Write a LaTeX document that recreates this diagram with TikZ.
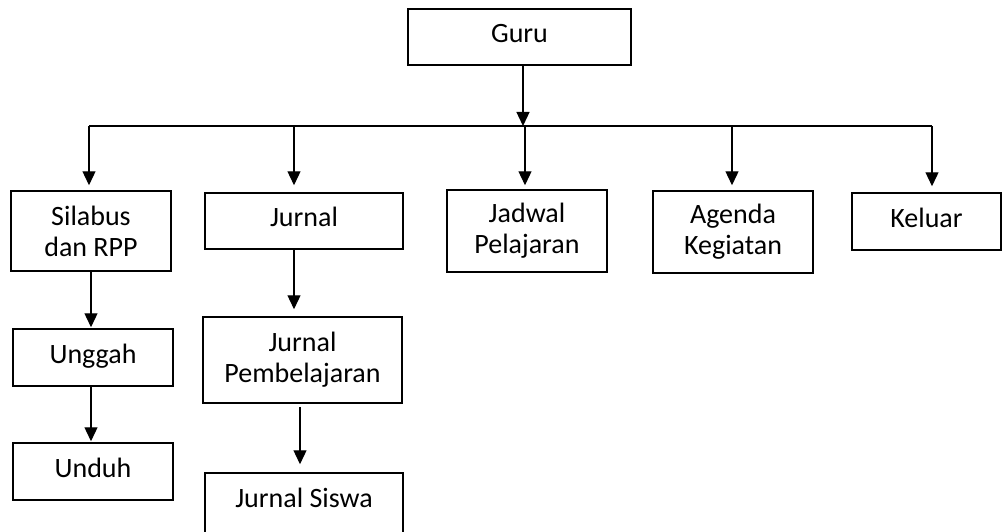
\documentclass[tikz,border=0pt]{standalone}
\usepackage{fontspec}
\setmainfont{Carlito}
\usetikzlibrary{arrows.meta}
\begin{document}
\begin{tikzpicture}[x=1pt,y=-1pt,
  box/.style={draw, line width=1.5pt, inner sep=0pt, align=center,
    font=\fontsize{28}{31}\selectfont, text=black},
  one/.style={text height=18pt, text depth=7pt},
  arr/.style={line width=1.3pt, -{Triangle[length=14pt,width=13pt]}},
  ln/.style={line width=1.3pt}]
\useasboundingbox (0,0) rectangle (1003,532);
% boxes
\node[box, one, minimum width=223pt, minimum height=56pt] (guru) at (519.5,37) {Guru};
\node[box, minimum width=160pt, minimum height=80pt] (sil) at (91,231) {Silabus\\dan RPP};
\node[box, one, minimum width=198pt, minimum height=56pt] (jur) at (304,221) {Jurnal};
\node[box, minimum width=160pt, minimum height=82pt] (jad) at (527,231) {Jadwal\\Pelajaran};
\node[box, minimum width=160pt, minimum height=82pt] (age) at (733,232) {Agenda\\Kegiatan};
\node[box, one, minimum width=149pt, minimum height=57pt] (kel) at (926.5,221.5) {Keluar};
\node[box, one, minimum width=160pt, minimum height=57pt] (ung) at (93,357.5) {Unggah};
\node[box, one, minimum width=160pt, minimum height=57pt] (und) at (93,471.5) {Unduh};
\node[box, minimum width=199pt, minimum height=86pt] (jp) at (302.5,360) {Jurnal\\Pembelajaran};
\node[box, text height=18pt, text depth=15pt, minimum width=198pt, minimum height=66pt] (js) at (304,506) {Jurnal Siswa};
% bus coordinates
\coordinate (b1) at (89,126);
\coordinate (b2) at (294,126);
\coordinate (bg) at (523,126);
\coordinate (b3) at (525,126);
\coordinate (b4) at (732,126);
\coordinate (b5) at (932,126);
\coordinate (c) at (300,406);
% connectors
\draw[arr] (guru.south -| bg) -- (bg);
\draw[ln] (b1) -- (b5);
\draw[arr, shorten >=5pt] (b1) -- (b1 |- sil.north);
\draw[arr, shorten >=7pt] (b2) -- (b2 |- jur.north);
\draw[arr, shorten >=4pt] (b3) -- (b3 |- jad.north);
\draw[arr, shorten >=5pt] (b4) -- (b4 |- age.north);
\draw[arr, shorten >=6pt] (b5) -- (b5 |- kel.north);
\draw[arr, shorten >=1pt] (sil.south) -- (sil.south |- ung.north);
\draw[arr, shorten >=1pt] (ung.south -| sil.south) -- (sil.south |- und.north);
\draw[arr, shorten >=7pt] (jur.south -| b2) -- (b2 |- jp.north);
\draw[arr, shorten <=3pt, shorten >=8pt] (jp.south -| c) -- (c |- js.north);
\end{tikzpicture}
\end{document}
